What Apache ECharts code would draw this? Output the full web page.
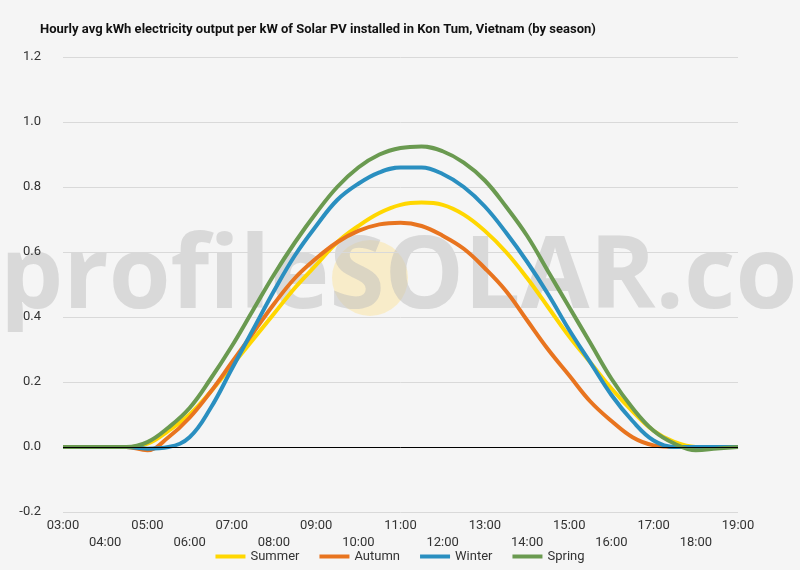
<!DOCTYPE html>
<html>
<head>
<meta charset="utf-8">
<script src="https://cdn.jsdelivr.net/npm/echarts@6/dist/echarts.min.js"></script>
<style>html,body{margin:0;background:#f5f5f5}#chart{width:800px;height:570px}</style>
</head>
<body>
<div id="chart"></div>
<script>
// half-hour steps from 03:00 to 19:00
const hours = [3,3.5,4,4.5,5,5.5,6,6.5,7,7.5,8,8.5,9,9.5,10,10.5,11,11.5,12,12.5,13,13.5,14,14.5,15,15.5,16,16.5,17,17.5,18,18.5,19];
const summer = [0,0,0,0,0.01,0.05,0.1,0.17,0.25,0.33,0.41,0.49,0.56,0.63,0.68,0.72,0.745,0.752,0.745,0.715,0.665,0.6,0.52,0.43,0.34,0.26,0.18,0.11,0.05,0.015,0,0,0];
const autumn = [0,0,0,0,-0.01,0.03,0.09,0.17,0.26,0.35,0.44,0.52,0.58,0.63,0.665,0.685,0.69,0.68,0.65,0.61,0.55,0.48,0.39,0.3,0.22,0.14,0.08,0.03,0.005,0,0,0,0];
const winter = [0,0,0,0,-0.005,0,0.03,0.12,0.24,0.36,0.48,0.59,0.68,0.76,0.81,0.845,0.86,0.86,0.84,0.8,0.74,0.66,0.57,0.47,0.36,0.26,0.16,0.08,0.02,0,0,0,0];
const spring = [0,0,0,0,0.015,0.06,0.12,0.21,0.31,0.42,0.53,0.63,0.72,0.8,0.86,0.9,0.92,0.925,0.91,0.875,0.82,0.74,0.65,0.54,0.43,0.32,0.21,0.12,0.05,0.01,-0.01,-0.005,0];
const seasonNames = ['Summer','Autumn','Winter','Spring'];
const seasonColors = ['#ffd700','#e8741f','#2a8fc0','#6a9a50'];

const chart = echarts.init(document.getElementById('chart'));
const pair = arr => hours.map((h, i) => [h, arr[i]]);
const hh = v => (v < 10 ? '0' : '') + v + ':00';
chart.setOption({
  backgroundColor: '#f5f5f5',
  textStyle: { fontFamily: 'Roboto' },
  title: { text: 'Hourly avg kWh electricity output per kW of Solar PV installed in Kon Tum, Vietnam (by season)',
    left: 35, top: 18, textStyle: { fontSize: 13, fontWeight: 'bold', color: '#111' } },
  graphic: [
    { type: 'circle', shape: { cx: 370, cy: 278, r: 38 }, style: { fill: 'rgba(255,220,120,0.35)' }, z: 0 },
    { type: 'text', left: 0, top: 230, z: 0, style: { text: 'profileSOLAR.com', fontSize: 100, fontWeight: 'bold', fontFamily: 'Open Sans', fill: 'rgba(190,190,190,0.5)' } }
  ],
  legend: { bottom: 2, itemWidth: 30, itemHeight: 4, icon: 'rect', textStyle: { fontSize: 13, color: '#333' }, itemGap: 20 },
  grid: { left: 63, right: 62, top: 57, bottom: 58 },
  xAxis: { type: 'value', min: 3, max: 19, interval: 1,
    axisLine: { show: false }, axisTick: { show: false }, splitLine: { show: false },
    axisLabel: { fontSize: 13, color: '#333', margin: 5,
      formatter: v => (v % 2 === 1 ? hh(v) : '\n' + hh(v)), lineHeight: 17 } },
  yAxis: { type: 'value', min: -0.2, max: 1.2, interval: 0.2,
    axisLine: { show: false }, axisTick: { show: false },
    axisLabel: { fontSize: 13, color: '#333', margin: 22, formatter: v => v.toFixed(1) },
    splitLine: { lineStyle: { color: '#d9d9d9' } } },
  series: [summer, autumn, winter, spring].map((d, i) => ({
    name: seasonNames[i], type: 'line', data: pair(d), smooth: 0.4, showSymbol: false,
    lineStyle: { width: 4, color: seasonColors[i] }, itemStyle: { color: seasonColors[i] },
    markLine: i === 0 ? { silent: true, symbol: 'none', label: { show: false },
      lineStyle: { color: '#000', width: 1, type: 'solid' }, data: [{ yAxis: 0 }] } : undefined
  }))
});
</script>
</body>
</html>
